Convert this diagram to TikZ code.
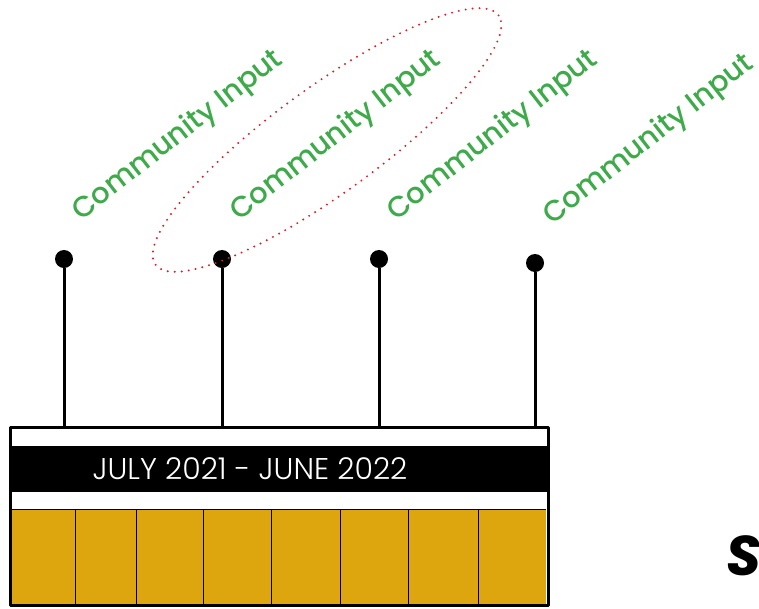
\documentclass[tikz,border=0pt]{standalone}
\usepackage{fontspec}
\setmainfont{Poppins}
\newfontfamily\inputfont{Poppins}[UprightFont=* Medium]
\newfontfamily\yearfont{Poppins}[UprightFont=* Light]
\usetikzlibrary{calc}
\definecolor{inputgreen}{RGB}{62,170,74}
\definecolor{ringred}{RGB}{214,32,42}
\definecolor{monthgold}{RGB}{221,165,14}
\tikzset{
  pindot/.style={circle, fill=black, inner sep=0pt, minimum size=18pt},
  pinline/.style={line width=3pt},
  inputlabel/.style={text=inputgreen, font=\inputfont\fontsize{29}{29}\selectfont, rotate=38, inner sep=0pt},
  ring/.style={ringred, line width=2.2pt, line cap=round, dash pattern=on 0pt off 7pt}
}
\begin{document}
\begin{tikzpicture}[x=1pt, y=-1pt, line join=round]
			\useasboundingbox (0,0) rectangle (759,608);
			% dots and the labels above them
			\node[pindot] (d1) at (64,259) {};
			\node[pindot] (d2) at (222,259) {};
			\node[pindot] (d3) at (379,259) {};
			\node[pindot] (d4) at (535,263) {};
			\foreach \i in {1,...,4}
				\node[inputlabel] (in\i) at ($(d\i)+(114,-123)$) {Community Input};
			% the circled one
			\coordinate (ringc) at (327,140);
			\draw[ring, rotate around={36:(ringc)}] (ringc) ellipse [x radius=212pt, y radius=53pt];
			% year bar
			\coordinate (bartop) at (0,427);
			\fill[monthgold] (12,509) rectangle (546,605);
			\foreach \xx in {75,136,203,271,340,408,478}
				\draw[line width=0.8pt] (\xx,509) -- (\xx,605);
			\draw[line width=1pt] (12,509) -- (546,509);
			\draw[line width=3pt] (10,605) -- (10,427) -- (548,427) -- (548,605) -- cycle;
			\fill[black] (9,446) rectangle (549,492);
			\node[text=white, font=\yearfont\fontsize{30}{30}\selectfont, inner sep=0pt] (year) at (250,469) {JULY 2021 - JUNE 2022};
			\foreach \i in {1,...,4}
				\draw[pinline] (d\i) -- (d\i |- bartop);
			\node[font=\fontsize{56}{56}\selectfont\bfseries\itshape, inner sep=0pt] (sched) at (744,556) {S};
		\end{tikzpicture}
\end{document}
